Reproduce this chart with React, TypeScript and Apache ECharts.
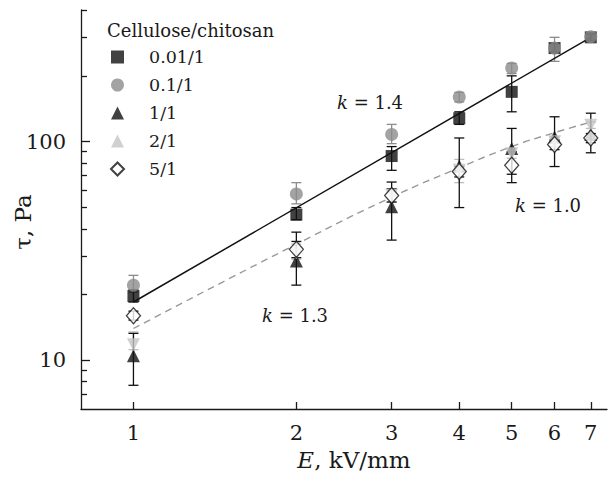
import React, { useEffect, useRef } from "react";
import * as echarts from "echarts";

const E = [1, 2, 3, 4, 5, 6, 7];

const s001 = [19.7, 46.4, 86, 128, 169, 268, 300];
const s001Lo = [18.5, 44, 74, 120, 137, 258, 290];
const s001Hi = [21, 50, 95, 137, 200, 280, 310];

const s01 = [22.1, 57.7, 108, 160, 217, 268, 302];
const s01Lo = [20.5, 52, 98, 152, 205, 233, 292];
const s01Hi = [24.5, 65, 120, 168, 228, 300, 312];

const s11 = [10.5, 28.5, 50.4, 77.5, 93, 105, 108];
const s11Lo = [7.7, 22.1, 35.5, 50, 71, 77, 89];
const s11Hi = [13.3, 35, 65.4, 104, 115, 130, 135];

const s21 = [11.8, 31, 57, 74, 88, 100, 119];
const s21Lo = [11.2, 29, 53, 65, 84, 95, 115];
const s21Hi = [13.5, 34, 61, 83, 93, 105, 123];

const s51 = [16, 32.2, 56.8, 73, 78, 97, 104];
const s51Lo = [15.3, 29.5, 53, 69, 65, 92, 99];
const s51Hi = [16.8, 38.6, 61, 77, 90, 102, 109];

const fitSolidX = [1, 7];
const fitSolidY = [18.5, 300];
const fitDashX = [1, 2, 3, 4, 5, 6, 7];
const fitDashY = [14, 34, 55.8, 76, 95, 110, 123];

const xTicks = [1, 2, 3, 4, 5, 6, 7];
const yMajor = [10, 100];
const yMinor = [7, 8, 9, 20, 30, 40, 50, 60, 70, 80, 90, 200, 300, 400];

const names = ["0.01/1", "0.1/1", "1/1", "2/1", "5/1"];

const FONT = "DejaVu Serif";
const INK = "#1a1a1a";

export default function App() {
  const ref = useRef<HTMLDivElement>(null);
  useEffect(() => {
    document.body.style.margin = "0";
    const chart = echarts.init(ref.current!, null, { renderer: "svg" });

    const errSeries = (lo: number[], hi: number[], color: string) => ({
      type: "custom",
      xAxisIndex: 0,
      yAxisIndex: 0,
      z: 1,
      silent: true,
      encode: { x: 0, y: [1, 2] },
      data: E.map((x, i) => [x, lo[i], hi[i]]),
      renderItem: (params: any, api: any) => {
        const x = api.value(0);
        const p1 = api.coord([x, api.value(1)]);
        const p2 = api.coord([x, api.value(2)]);
        const w = 5;
        const style = { stroke: color, lineWidth: 1.3 };
        return {
          type: "group",
          children: [
            { type: "line", shape: { x1: p1[0], y1: p1[1], x2: p2[0], y2: p2[1] }, style },
            { type: "line", shape: { x1: p1[0] - w, y1: p1[1], x2: p1[0] + w, y2: p1[1] }, style },
            { type: "line", shape: { x1: p2[0] - w, y1: p2[1], x2: p2[0] + w, y2: p2[1] }, style },
          ],
        };
      },
    });

    const scatter = (name: string, vals: number[], symbol: string, size: any, itemStyle: any, rotate = 0) => ({
      type: "scatter",
      name,
      xAxisIndex: 0,
      yAxisIndex: 0,
      z: 3,
      symbol,
      symbolSize: size,
      symbolRotate: rotate,
      itemStyle,
      data: E.map((x, i) => [x, vals[i]]),
    });

    const kText = (t: string) => ({
      text: "{i|k} = " + t,
      fontFamily: FONT,
      fontSize: 18,
      fill: INK,
      rich: { i: { fontStyle: "italic", fontFamily: FONT, fontSize: 18, fill: INK } },
    });

    chart.setOption({
      animation: false,
      backgroundColor: "#ffffff",
      textStyle: { fontFamily: FONT },
      title: {
        text: "Cellulose/chitosan",
        left: 107,
        top: 21,
        padding: 0,
        textStyle: { fontFamily: FONT, fontSize: 18, fontWeight: "normal", color: INK },
      },
      legend: {
        orient: "vertical",
        left: 110,
        top: 47,
        padding: 0,
        itemWidth: 13,
        itemHeight: 13,
        itemGap: 8,
        data: names,
        textStyle: { fontFamily: FONT, fontSize: 17.5, color: INK, lineHeight: 20, padding: [0, 0, 0, 20] },
      },
      grid: { left: 81, top: 10, right: 3, bottom: 69, outerBoundsMode: "none" } as any,
      xAxis: {
        type: "log",
        logBase: 10,
        min: 0.8,
        max: 7.5,
        name: "{i|E}, kV/mm",
        nameLocation: "middle",
        nameGap: 39,
        nameMoveOverlap: false,
        nameTextStyle: {
          fontFamily: FONT,
          fontSize: 23,
          color: INK,
          padding: [0, 0, 0, 20],
          rich: { i: { fontFamily: FONT, fontSize: 23, fontStyle: "italic", color: INK } },
        },
        axisLine: { show: true, lineStyle: { color: INK, width: 1.3 } },
        axisTick: { show: true, inside: true, length: 7, customValues: xTicks, lineStyle: { color: INK, width: 1.3 } },
        axisLabel: {
          customValues: xTicks,
          formatter: (v: number) => String(Math.round(v)),
          fontFamily: FONT,
          fontSize: 21,
          color: INK,
          margin: 13,
        },
        splitLine: { show: false },
        minorTick: { show: false },
      },
      yAxis: [
        {
          type: "log",
          logBase: 10,
          min: 6,
          max: 400,
          position: "left",
          name: "τ, Pa",
          nameLocation: "middle",
          nameRotate: 90,
          nameGap: 47,
          nameMoveOverlap: false,
          nameTextStyle: { fontFamily: FONT, fontSize: 23, color: INK, padding: [0, 25, 0, 0] },
          axisLine: { show: true, lineStyle: { color: INK, width: 1.3 } },
          axisTick: { show: true, inside: true, length: 9, customValues: yMajor, lineStyle: { color: INK, width: 1.3 } },
          axisLabel: {
            customValues: yMajor,
            formatter: (v: number) => String(Math.round(v)),
            fontFamily: FONT,
            fontSize: 21,
            color: INK,
            margin: 15,
          },
          splitLine: { show: false },
        },
        {
          type: "log",
          logBase: 10,
          min: 6,
          max: 400,
          position: "left",
          axisLine: { show: false },
          axisTick: { show: true, inside: true, length: 6, customValues: yMinor, lineStyle: { color: INK, width: 1.3 } },
          axisLabel: { show: false },
          splitLine: { show: false },
        },
      ],
      graphic: [
        { type: "text", left: 337, top: 93, style: kText("1.4") },
        { type: "text", left: 515, top: 196, style: kText("1.0") },
        { type: "text", left: 262, top: 306, style: kText("1.3") },
      ],
      series: [
        errSeries(s21Lo, s21Hi, "#bdbdbd"),
        errSeries(s01Lo, s01Hi, "#8c8c8c"),
        errSeries(s51Lo, s51Hi, "#111111"),
        errSeries(s11Lo, s11Hi, "#111111"),
        errSeries(s001Lo, s001Hi, "#111111"),
        {
          type: "line",
          name: "fit1",
          z: 2,
          silent: true,
          symbol: "none",
          lineStyle: { color: "#111111", width: 1.5 },
          data: fitSolidX.map((x, i) => [x, fitSolidY[i]]),
        },
        {
          type: "line",
          name: "fit2",
          z: 2,
          silent: true,
          symbol: "none",
          smooth: true,
          lineStyle: { color: "#999999", width: 1.4, type: [7, 5] },
          data: fitDashX.map((x, i) => [x, fitDashY[i]]),
        },
        scatter(names[0], s001, "rect", 12, { color: "#111111" }),
        scatter(names[1], s01, "circle", 13, { color: "#8c8c8c" }),
        scatter(names[2], s11, "triangle", 13, { color: "#111111" }),
        scatter(names[3], s21, "triangle", 13, { color: "#c4c4c4" }, 180),
        scatter(names[4], s51, "diamond", [14, 16], { color: "#ffffff", borderColor: "#111111", borderWidth: 1.3 }),
      ],
    });
    return () => chart.dispose();
  }, []);
  return <div ref={ref} style={{ width: 610, height: 478 }} />;
}
